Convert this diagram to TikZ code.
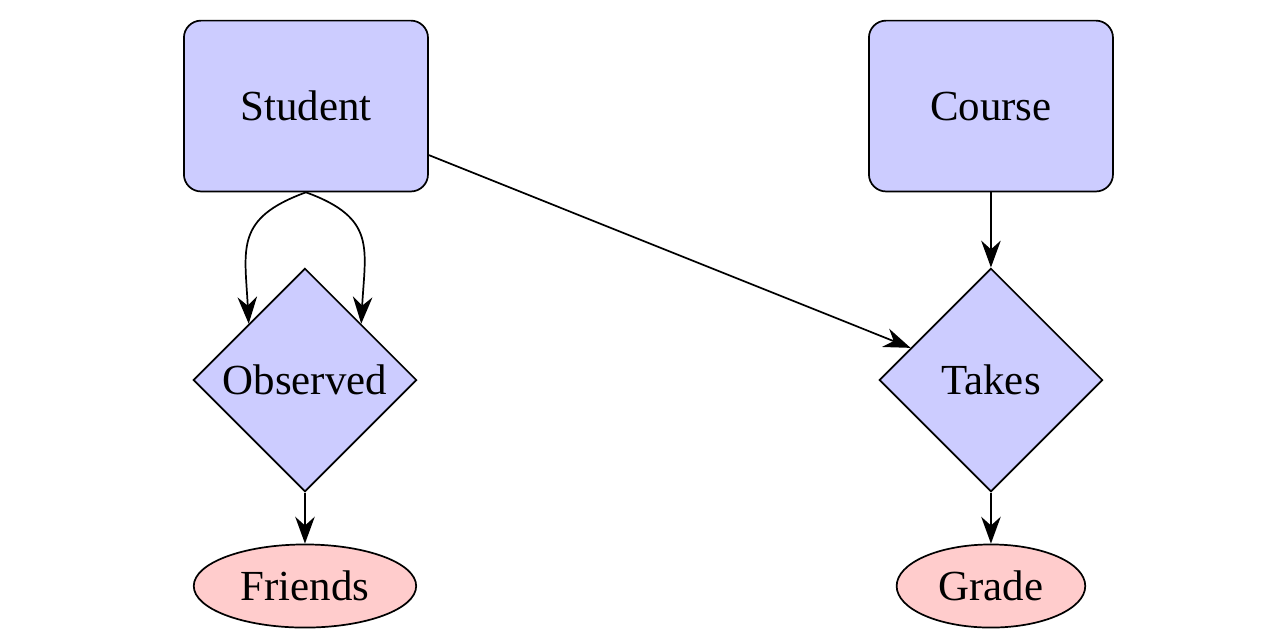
\documentclass[tikz,border=0pt]{standalone}
\usepackage{fontspec}
\setmainfont{Liberation Serif}
\usepackage{tikz}
\usetikzlibrary{arrows.meta, shapes.geometric}

\begin{document}
\begin{tikzpicture}[
    entidade/.style={draw, rounded corners, fill=blue!20,
                     minimum width=2cm, minimum height=1.4cm},
    relacao/.style={draw, diamond, aspect=1, fill=blue!20,
                    inner sep=0pt, minimum size=1.83cm},
    atributo/.style={draw, ellipse, fill=red!20},
    seta/.style={-{Stealth[length=2.2mm, width=1.6mm]}}]
  % moldura
  \useasboundingbox (0,0) rectangle (10.554,-5.277);
  % entidades
  \node[entidade] (student) at (2.507,-0.869) {Student};
  \node[entidade] (course) at (8.120,-0.869) {Course};
  % relacoes
  \node[relacao] (observed) at (2.499,-3.114) {Observed};
  \node[relacao] (takes) at (8.120,-3.114) {Takes};
  % atributos
  \node[atributo] (friends) at (2.499,-4.802) {Friends};
  \node[atributo] (grade) at (8.120,-4.802) {Grade};
  % ligacoes
  \draw[seta] (student.south) to[out=200, in=93, looseness=1.35] (observed.north west);
  \draw[seta] (student.south) to[out=-20, in=87, looseness=1.35] (observed.north east);
  \draw[seta] (student) -- (takes);
  \draw[seta] (course) -- (takes);
  \draw[seta] (observed) -- (friends);
  \draw[seta] (takes) -- (grade);
\end{tikzpicture}
\end{document}
